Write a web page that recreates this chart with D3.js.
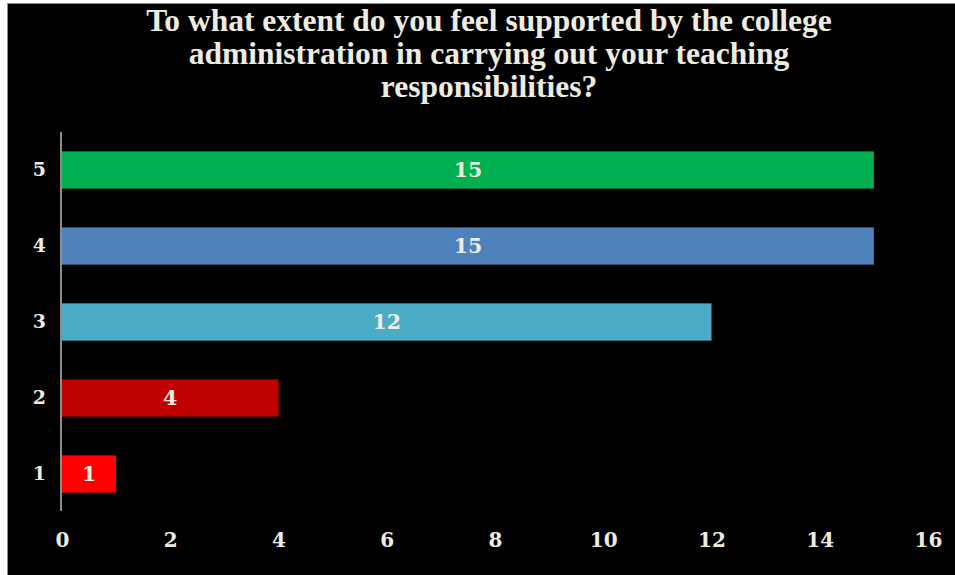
<!DOCTYPE html>
<html>
<head>
<meta charset="utf-8">
<script src="https://cdn.jsdelivr.net/npm/d3@7/dist/d3.min.js"></script>
<style>
  html, body { margin: 0; padding: 0; background: #ffffff; }
  svg { display: block; }
</style>
</head>
<body>
<svg id="chart" width="955" height="575"></svg>
<script>
// Survey responses: rating (1–5) and number of respondents
const categories = ["5", "4", "3", "2", "1"];
const values = [15, 15, 12, 4, 1];
const barColors = ["#00B050", "#4F81BD", "#4BACC6", "#C00000", "#FF0000"];
const xTicks = [0, 2, 4, 6, 8, 10, 12, 14, 16];
const titleLines = [
  "To what extent do you feel supported by the college",
  "administration in carrying out your teaching",
  "responsibilities?"
];

const svg = d3.select("#chart");
const textColor = "#EEECE1";
const titleFont = "'Liberation Serif', 'DejaVu Serif', serif";
const numFont = "'DejaVu Serif', 'Liberation Serif', serif";

// Chart area background
svg.append("rect")
  .attr("x", 7.5).attr("y", 3.5)
  .attr("width", 960).attr("height", 580)
  .attr("fill", "#000000")
  .attr("stroke", "#8c8c8c")
  .attr("stroke-width", 1);

// Title
const title = svg.append("g");
titleLines.forEach((line, i) => {
  title.append("text")
    .attr("x", 489)
    .attr("y", 31 + i * 33)
    .attr("text-anchor", "middle")
    .attr("font-family", titleFont)
    .attr("font-weight", "bold")
    .attr("font-size", 31.5)
    .attr("fill", textColor)
    .text(line);
});

// Scales
const x = d3.scaleLinear().domain([0, 16]).range([62, 928]);
const y = d3.scaleBand().domain(categories).range([132, 512]).paddingInner(0.51).paddingOuter(0.255);

// Bars
svg.append("g")
  .selectAll("rect")
  .data(values)
  .join("rect")
  .attr("x", x(0))
  .attr("y", (d, i) => y(categories[i]))
  .attr("width", d => x(d) - x(0))
  .attr("height", y.bandwidth())
  .attr("fill", (d, i) => barColors[i]);

// Value labels centred in each bar
svg.append("g")
  .selectAll("text")
  .data(values)
  .join("text")
  .attr("x", d => (x(0) + x(d)) / 2)
  .attr("y", (d, i) => y(categories[i]) + y.bandwidth() / 2)
  .attr("dy", "0.36em")
  .attr("text-anchor", "middle")
  .attr("font-family", numFont)
  .attr("font-weight", "bold")
  .attr("font-size", 20.5)
  .attr("fill", textColor)
  .text(d => d);

// Category axis (left)
const yAxis = svg.append("g")
  .attr("transform", `translate(${x(0) - 1},0)`)
  .call(d3.axisLeft(y).tickSize(0).tickPadding(15));
yAxis.select(".domain")
  .attr("d", "M0,132V511")
  .attr("stroke", "#8c8c8c")
  .attr("stroke-width", 2);
yAxis.selectAll("text")
  .attr("font-family", numFont)
  .attr("font-weight", "bold")
  .attr("font-size", 19)
  .attr("fill", textColor);

// Value axis (bottom), labels only
const xAxis = svg.append("g")
  .attr("transform", "translate(0,526)")
  .call(d3.axisBottom(x).tickValues(xTicks).tickSize(0).tickPadding(7));
xAxis.select(".domain").remove();
xAxis.selectAll("text")
  .attr("font-family", numFont)
  .attr("font-weight", "bold")
  .attr("font-size", 20)
  .attr("fill", textColor);
</script>
</body>
</html>
